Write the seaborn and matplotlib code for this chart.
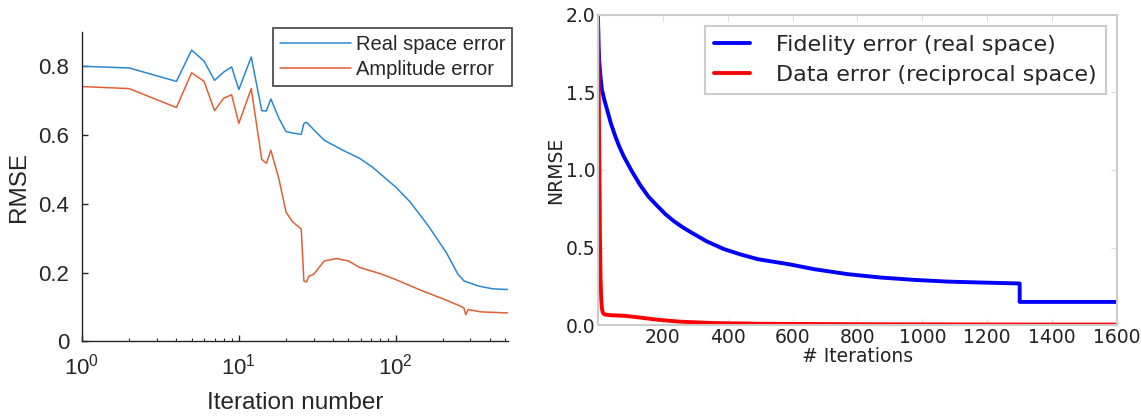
import matplotlib
matplotlib.use('Agg')
import matplotlib.pyplot as plt
import numpy as np
import seaborn as sns
from matplotlib.ticker import FixedLocator, LogLocator, NullFormatter

# Painel esquerdo: erro RMSE vs iteração (escala log)
ITER_REAL = [1, 2, 4, 5, 6, 7, 8, 9, 10, 12, 14, 15, 16, 18, 20, 22, 25, 26, 27,
             35, 46, 59, 71, 100, 124, 161, 210, 250, 273, 338, 417, 520]
REAL_SPACE = [0.800, 0.795, 0.756, 0.847, 0.815, 0.759, 0.783, 0.798, 0.732, 0.827,
              0.671, 0.670, 0.705, 0.649, 0.610, 0.606, 0.602, 0.634, 0.637,
              0.585, 0.556, 0.532, 0.507, 0.449, 0.405, 0.337, 0.259, 0.195, 0.176,
              0.161, 0.153, 0.151]

ITER_AMP = [1, 2, 4, 5, 6, 7, 8, 9, 10, 12, 14, 15, 16, 18, 20, 22, 25, 26, 27, 28,
            30, 35, 42, 50, 59, 80, 100, 150, 200, 255, 272, 280, 290, 350, 520]
AMPLITUDE = [0.741, 0.735, 0.680, 0.781, 0.756, 0.671, 0.707, 0.717, 0.634, 0.735,
             0.529, 0.518, 0.556, 0.473, 0.376, 0.348, 0.327, 0.176, 0.173, 0.190,
             0.195, 0.234, 0.241, 0.234, 0.215, 0.197, 0.180, 0.146, 0.124, 0.104,
             0.098, 0.078, 0.093, 0.086, 0.083]

# Painel direito: NRMSE vs iterações
ITER_FID = [0, 2, 4, 8, 12, 20, 28, 40, 53, 65, 79, 105, 131, 155, 182, 208, 234,
            260, 285, 335, 388, 440, 492, 594, 667, 770, 873, 976, 1079, 1182,
            1300, 1300, 1600]
FIDELITY = [2.0, 1.80, 1.70, 1.60, 1.52, 1.45, 1.39, 1.30, 1.22, 1.155, 1.09, 0.99,
            0.90, 0.83, 0.77, 0.715, 0.67, 0.632, 0.60, 0.54, 0.49, 0.455, 0.425,
            0.39, 0.36, 0.328, 0.306, 0.291, 0.28, 0.274, 0.268, 0.149, 0.149]

ITER_DATA = [0, 2, 4, 6, 8, 10, 12, 15, 20, 40, 80, 130, 180, 250, 350, 500, 800,
             1300, 1600]
DATA_ERR = [2.0, 1.6, 1.1, 0.6, 0.3, 0.17, 0.11, 0.08, 0.068, 0.063, 0.06, 0.048,
            0.035, 0.022, 0.013, 0.008, 0.005, 0.003, 0.003]

LOG_TICKS = [1, 10, 100]
LOG_LABELS = ['$10^{0}$', '$10^{1}$', '$10^{2}$']
RMSE_TICKS = [0, 0.2, 0.4, 0.6, 0.8]
RMSE_LABELS = ['0', '0.2', '0.4', '0.6', '0.8']
NRMSE_TICKS = [0.0, 0.5, 1.0, 1.5, 2.0]
ITER_TICKS = [200, 400, 600, 800, 1000, 1200, 1400, 1600]


def main():
    sns.set_style('white')
    plt.rcParams['mathtext.fontset'] = 'custom'
    plt.rcParams['mathtext.rm'] = 'Liberation Sans'
    plt.rcParams['mathtext.default'] = 'regular'

    fig = plt.figure(figsize=(11.42, 4.19), dpi=100)

    # ---- esquerda (estilo MATLAB)
    ax1 = fig.add_axes([0.0718, 0.185, 0.373, 0.739])
    sns.lineplot(x=ITER_REAL, y=REAL_SPACE, ax=ax1, color='#2a88cf', lw=1.1,
                 estimator=None, sort=False, label='Real space error')
    sns.lineplot(x=ITER_AMP, y=AMPLITUDE, ax=ax1, color='#dd6133', lw=1.1,
                 estimator=None, sort=False, label='Amplitude error')
    ax1.set_xscale('log')
    ax1.set_xlim(1, 520)
    ax1.set_ylim(0, 0.9)
    ax1.xaxis.set_major_locator(FixedLocator(LOG_TICKS))
    ax1.set_xticklabels(LOG_LABELS)
    ax1.xaxis.set_minor_locator(LogLocator(base=10, subs=np.arange(2, 10)))
    ax1.xaxis.set_minor_formatter(NullFormatter())
    ax1.set_yticks(RMSE_TICKS)
    ax1.set_yticklabels(RMSE_LABELS)
    for s in ['top', 'right']:
        ax1.spines[s].set_visible(False)
    for s in ['left', 'bottom']:
        ax1.spines[s].set_color('#262626')
        ax1.spines[s].set_linewidth(1.0)
    ax1.tick_params(axis='both', which='major', direction='in', length=4, width=1,
                    bottom=True, left=True, color='#262626', labelsize=16,
                    labelcolor='#262626', pad=9)
    ax1.tick_params(axis='x', which='minor', direction='in', length=2.5, width=0.8,
                    bottom=True, color='#262626')
    for t in ax1.get_xticklabels() + ax1.get_yticklabels():
        t.set_family('Liberation Sans')
    ax1.set_xlabel('Iteration number', fontsize=17.5, family='Liberation Sans',
                   color='#262626', labelpad=9)
    ax1.set_ylabel('RMSE', fontsize=17.5, family='Liberation Sans',
                   color='#262626', labelpad=6)
    leg1 = ax1.legend(loc='upper right', bbox_to_anchor=(1.01, 1.012), fancybox=False,
                      prop={'family': 'Liberation Sans', 'size': 14.5},
                      handlelength=3.5, handletextpad=0.25, borderpad=0.35,
                      labelspacing=0.3, borderaxespad=0)
    leg1.get_frame().set_edgecolor('#404040')
    leg1.get_frame().set_linewidth(1.2)
    leg1.get_frame().set_alpha(1)

    # ---- direita (estilo matplotlib clássico)
    ax2 = fig.add_axes([0.5236, 0.2243, 0.4545, 0.740])
    sns.lineplot(x=ITER_FID, y=FIDELITY, ax=ax2, color='blue', lw=2.8,
                 estimator=None, sort=False, label='Fidelity error (real space)')
    sns.lineplot(x=ITER_DATA, y=DATA_ERR, ax=ax2, color='red', lw=2.8,
                 estimator=None, sort=False, label='Data error (reciprocal space)')
    ax2.set_xlim(0, 1600)
    ax2.set_ylim(0, 2.0)
    ax2.set_xticks(ITER_TICKS)
    ax2.set_yticks(NRMSE_TICKS)
    ax2.set_yticklabels([f'{v:.1f}' for v in NRMSE_TICKS])
    for s in ax2.spines.values():
        s.set_color('#cccccc')
        s.set_linewidth(1.5)
    ax2.tick_params(axis='both', direction='in', length=4, width=0.8, color='#dddddd',
                    bottom=True, left=True, top=True, right=True,
                    labelsize=13.5, labelcolor='#222222', pad=2)
    ax2.set_xlabel('# Iterations', fontsize=13.5, color='#222222', labelpad=0)
    ax2.set_ylabel('NRMSE', fontsize=13.5, color='#222222', labelpad=0)
    leg2 = ax2.legend(loc='upper right', fancybox=False, prop={'size': 16},
                      handlelength=1.6, handletextpad=1.2, borderpad=0.4,
                      labelspacing=0.45, borderaxespad=0.5)
    leg2.get_frame().set_edgecolor('#cccccc')
    leg2.get_frame().set_linewidth(1.5)
    leg2.get_frame().set_alpha(1)

    fig.savefig('out.png', dpi=100)
    plt.close(fig)


if __name__ == '__main__':
    main()
